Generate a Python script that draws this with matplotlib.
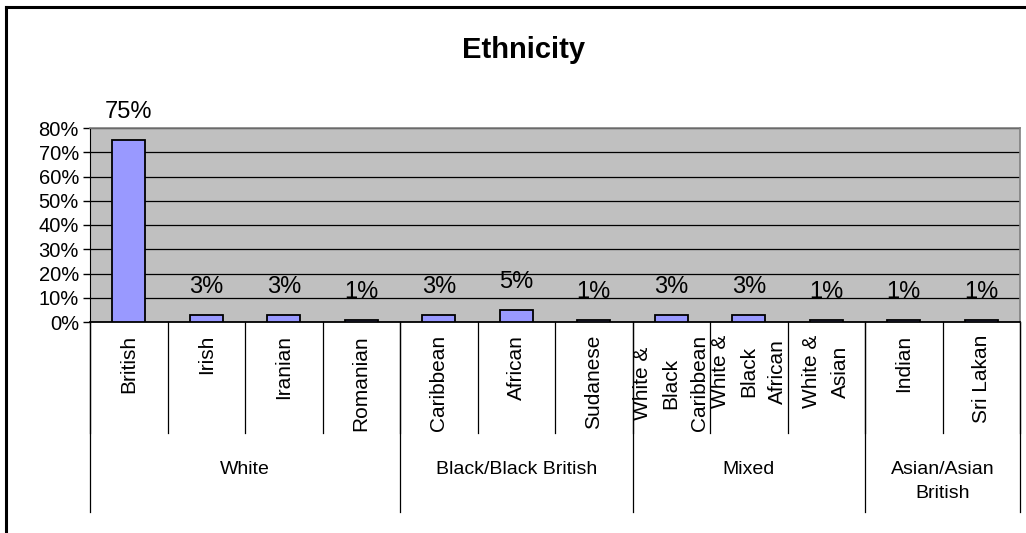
import matplotlib
matplotlib.use("Agg")
import matplotlib.pyplot as plt
from matplotlib.lines import Line2D

plt.rcParams["font.family"] = ["Liberation Sans", "DejaVu Sans"]

categories = ["British", "Irish", "Iranian", "Romanian",
              "Caribbean", "African", "Sudanese",
              "White &\nBlack\nCaribbean", "White &\nBlack\nAfrican", "White &\nAsian",
              "Indian", "Sri Lakan"]
values = [0.75, 0.03, 0.03, 0.01, 0.03, 0.05, 0.01, 0.03, 0.03, 0.01, 0.01, 0.01]
groups = ["White", "Black/Black British", "Mixed", "Asian/Asian\nBritish"]
group_sizes = [4, 3, 3, 2]
yticks = [0, 0.1, 0.2, 0.3, 0.4, 0.5, 0.6, 0.7, 0.8]

W, H = 1026, 533
fig = plt.figure(figsize=(W / 100, H / 100), dpi=100)

# plot area in pixel coords of the reference
px_l, px_r, px_t, px_b = 90, 1020, 128, 322
ax = fig.add_axes([px_l / W, 1 - px_b / H, (px_r - px_l) / W, (px_b - px_t) / H])
ax.set_facecolor("#C0C0C0")

n = len(categories)
xs = [i + 0.5 for i in range(n)]
ax.bar(xs, values, width=0.42, color="#9999FF", edgecolor="black", linewidth=1.3, zorder=3)

for x, v in zip(xs, values):
    ax.annotate(f"{v:.0%}", (x, v), xytext=(0, 12), textcoords="offset points",
                ha="center", va="bottom", fontsize=17, zorder=4, annotation_clip=False)

ax.set_xlim(0, n)
ax.set_ylim(0, 0.8)
ax.set_yticks(yticks)
ax.set_yticklabels([f"{int(round(t * 100))}%" for t in yticks], fontsize=14.5)
ax.tick_params(axis="y", direction="out", length=5, width=1, pad=3)
ax.set_xticks([])
ax.grid(axis="y", color="black", linewidth=0.9, zorder=1)

for side in ("top", "right"):
    ax.spines[side].set_color("#808080")
    ax.spines[side].set_linewidth(1.2)
ax.spines["left"].set_color("black")
ax.spines["bottom"].set_color("black")
ax.spines["bottom"].set_linewidth(1.3)

def frac(py):
    # reference pixel row -> axes fraction
    return (px_b - py) / (px_b - px_t)

trans = ax.get_xaxis_transform()

# category separators
for i in range(n + 1):
    ax.plot([i, i], [0, frac(433)], color="black", linewidth=0.9,
            transform=trans, clip_on=False)

# group separators
edges = [0]
for s in group_sizes:
    edges.append(edges[-1] + s)
for e in edges:
    ax.plot([e, e], [0, frac(512)], color="black", linewidth=0.9,
            transform=trans, clip_on=False)

# category labels (rotated)
for x, cat in zip(xs, categories):
    ax.text(x, frac(335), cat, transform=trans, rotation=90, ha="center", va="top",
            fontsize=15, multialignment="center", linespacing=1.65)

# group labels
for g, a, b in zip(groups, edges[:-1], edges[1:]):
    ax.text((a + b) / 2, frac(461), g, transform=trans, ha="center", va="top",
            fontsize=14, linespacing=1.55)

fig.text(524 / W, 1 - 50 / H, "Ethnicity", ha="center", va="center",
         fontsize=21, fontweight="bold")

# chart border (only left and top visible in the crop)
fig.add_artist(Line2D([6 / W, 6 / W], [0, 1 - 7 / H], color="black", linewidth=2.2))
fig.add_artist(Line2D([6 / W, 1], [1 - 7 / H, 1 - 7 / H], color="black", linewidth=2.2))

fig.savefig("out.png", dpi=100)
